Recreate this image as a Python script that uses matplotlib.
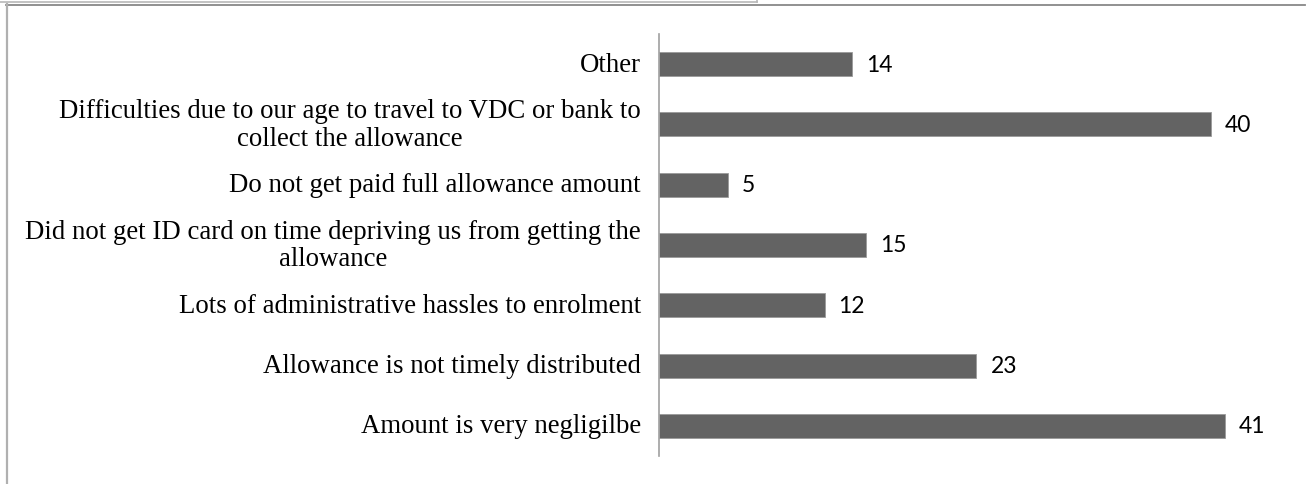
import matplotlib
matplotlib.use("Agg")
import matplotlib.pyplot as plt
from matplotlib.lines import Line2D

categories = [
    "Amount is very negligilbe",
    "Allowance is not timely distributed",
    "Lots of administrative hassles to enrolment",
    "Did not get ID card on time depriving us from getting the\nallowance",
    "Do not get paid full allowance amount",
    "Difficulties due to our age to travel to VDC or bank to\ncollect the allowance",
    "Other",
]
values = [41, 23, 12, 15, 5, 40, 14]

W, H = 1306, 485
fig = plt.figure(figsize=(W / 100, H / 100), dpi=100)
ax = fig.add_axes([659 / W, 1 - 457 / H, (1280 - 659) / W, (457 - 35) / H])

y = list(range(len(categories)))
ax.barh(y, values, height=0.4, color="#636363", edgecolor="#9a9a9a", linewidth=0.6)
ax.set_xlim(0, 45)
ax.set_ylim(-0.5, len(categories) - 0.5)

for yi, v in zip(y, values):
    ax.annotate(str(v), (v, yi), xytext=(14, 0), textcoords="offset pixels",
                va="center", ha="left", fontsize=16.5, family="Lato", color="#000000")

ax.set_yticks(y)
ax.set_yticklabels([])
ax.tick_params(axis="y", length=0)
for yi, c in zip(y, categories):
    ax.annotate(c, (0, yi), xytext=(-18, 0), textcoords="offset pixels",
                ha="right", va="center", multialignment="center",
                fontsize=19.3, family="Liberation Serif", linespacing=1.15)

ax.set_xticks([])
for s in ["top", "right", "bottom"]:
    ax.spines[s].set_visible(False)
ax.spines["left"].set_color("#a0a0a0")
ax.spines["left"].set_linewidth(1.2)

# outer frame lines
def fx(px):
    return px / W

def fy(py):
    return 1 - py / H

fig.add_artist(Line2D([fx(0), fx(757)], [fy(2.5), fy(2.5)], color="#b8b8b8", lw=1.2, transform=fig.transFigure))
fig.add_artist(Line2D([fx(757), fx(757)], [fy(0), fy(2.5)], color="#b8b8b8", lw=1.2, transform=fig.transFigure))
fig.add_artist(Line2D([fx(6), fx(1305)], [fy(5.5), fy(5.5)], color="#888888", lw=1.3, transform=fig.transFigure))
fig.add_artist(Line2D([fx(6.5), fx(6.5)], [fy(5), fy(485)], color="#b0b0b0", lw=1.6, transform=fig.transFigure))

fig.savefig("out.png", dpi=100)
